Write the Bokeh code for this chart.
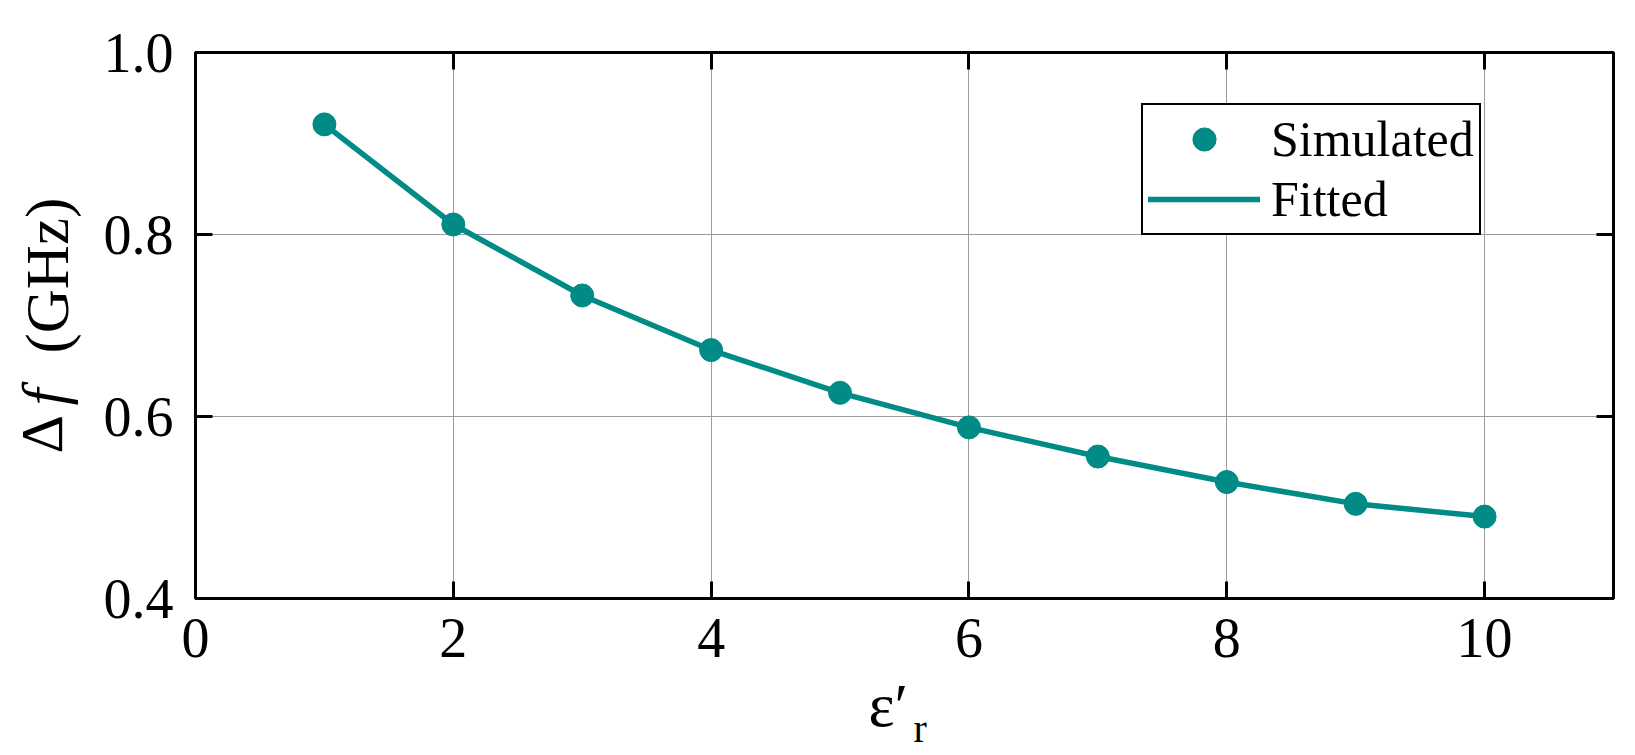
import math
from bokeh.plotting import figure
from bokeh.layouts import row, column
from bokeh.models import (Range1d, FixedTicker, LinearAxis, Legend, LegendItem,
                          NumeralTickFormatter, ColumnDataSource)
from bokeh.core.properties import value
from bokeh.embed import file_html
from bokeh.resources import INLINE

# ---- data ----
eps_r = [1, 2, 3, 4, 5, 6, 7, 8, 9, 10]
simulated = [0.921, 0.811, 0.733, 0.673, 0.626, 0.588, 0.556, 0.528, 0.504, 0.490]
fitted = [0.921, 0.811, 0.733, 0.673, 0.626, 0.588, 0.556, 0.528, 0.504, 0.490]
x_ticks = [0, 2, 4, 6, 8, 10]
y_ticks = [0.4, 0.6, 0.8, 1.0]
series_names = ["Simulated", "Fitted"]

TEAL = "#008B87"
FONT = "Liberation Serif"

YLAB_W = 100
BORDER_TOP = 52
FRAME_H = 546
BORDER_BOTTOM = 130

p = figure(frame_width=1418, frame_height=FRAME_H,
           x_range=Range1d(0, 11), y_range=Range1d(0.4, 1.0),
           output_backend="svg", toolbar_location=None,
           min_border_left=88, min_border_top=BORDER_TOP, min_border_right=20,
           min_border_bottom=BORDER_BOTTOM)

p.background_fill_color = "white"
p.border_fill_color = "white"
p.outline_line_color = "black"
p.outline_line_width = 3

# grid
p.xgrid.ticker = FixedTicker(ticks=[2, 4, 6, 8, 10])
p.ygrid.ticker = FixedTicker(ticks=[0.6, 0.8])
for g in (p.xgrid, p.ygrid):
    g.grid_line_color = "#9c9c9c"
    g.grid_line_width = 1

def style_axis(ax, ticks, show_labels=True):
    ax.ticker = FixedTicker(ticks=ticks)
    ax.axis_line_color = "black"
    ax.axis_line_width = 3
    ax.major_tick_line_color = "black"
    ax.major_tick_line_width = 3
    ax.major_tick_in = 17
    ax.major_tick_out = 0
    ax.minor_tick_line_color = None
    ax.major_label_text_font = FONT
    ax.major_label_text_color = "black"
    if show_labels:
        ax.major_label_text_font_size = "56px"
    else:
        ax.major_label_text_font_size = "0px"
        ax.major_label_text_alpha = 0

style_axis(p.xaxis[0], x_ticks)
p.xaxis[0].major_label_standoff = 20
style_axis(p.yaxis[0], y_ticks)
p.yaxis[0].major_label_standoff = 22
p.yaxis[0].formatter = NumeralTickFormatter(format="0.0")

top = LinearAxis()
style_axis(top, x_ticks, show_labels=False)
p.add_layout(top, "above")
right = LinearAxis()
style_axis(right, y_ticks, show_labels=False)
p.add_layout(right, "right")

src = ColumnDataSource(data=dict(x=eps_r, sim=simulated, fit=fitted))
ln = p.line("x", "fit", source=src, line_color=TEAL, line_width=5.5, line_cap="round", line_join="round")
sc = p.scatter("x", "sim", source=src, size=23, fill_color=TEAL, line_color=TEAL)

legend = Legend(items=[LegendItem(label=series_names[0], renderers=[sc]),
                       LegendItem(label=series_names[1], renderers=[ln])],
                location=(946, 363))
legend.label_text_font = FONT
legend.label_text_font_size = "50px"
legend.label_text_color = "black"
legend.glyph_width = 112
legend.glyph_height = 58
legend.label_height = 58
legend.label_standoff = 11
legend.spacing = 2
legend.padding = 5
legend.margin = 0
legend.border_line_color = "black"
legend.border_line_alpha = 1
legend.border_line_width = 2
legend.background_fill_alpha = 1
p.add_layout(legend, "center")

# ---- y-axis label figure: Δf (GHz), rotated; y data = page pixel row ----
ylab = figure(frame_width=YLAB_W, frame_height=FRAME_H,
              x_range=Range1d(0, YLAB_W), y_range=Range1d(BORDER_TOP + FRAME_H, BORDER_TOP),
              x_axis_type=None, y_axis_type=None, output_backend="svg", toolbar_location=None,
              min_border_left=0, min_border_right=0, min_border_top=BORDER_TOP,
              min_border_bottom=BORDER_BOTTOM)
ylab.outline_line_color = None
ylab.grid.visible = False
ang = math.pi / 2
ylab.text(x=[41], y=[453], text=["Δ"], angle=ang, text_font=value(FONT),
          text_font_size="60px", text_baseline="alphabetic", text_align="left", text_color="black")
ylab.text(x=[44], y=[405], text=["f"], angle=ang, text_font=value(FONT),
          text_font_style="italic", text_font_size="61px", text_baseline="alphabetic",
          text_align="left", text_color="black")
ylab.text(x=[47], y=[353], text=["(GHz)"], angle=ang, text_font=value(FONT),
          text_font_size="61px", text_baseline="alphabetic", text_align="left", text_color="black")

# ---- x-axis label figure: ε′ with subscript r; overlaps main bottom border ----
XW = YLAB_W + 88 + 1418 + 20
XL_TOP = 664
XL_H = 90
xlab = figure(width=XW, height=XL_H, x_range=Range1d(0, XW), y_range=Range1d(XL_TOP + XL_H, XL_TOP),
              x_axis_type=None, y_axis_type=None, output_backend="svg", toolbar_location=None,
              min_border=0)
xlab.outline_line_color = None
xlab.grid.visible = False
xlab.background_fill_alpha = 0
xlab.border_fill_alpha = 0
xlab.margin = (XL_TOP - (BORDER_TOP + FRAME_H + BORDER_BOTTOM), 0, 0, 0)
xlab.text(x=[868], y=[704], text=["ε′"], text_font=value(FONT),
          text_font_size="62px", text_baseline="alphabetic", text_align="left", text_color="black")
xlab.text(x=[913], y=[728], text=["r"], text_font=value(FONT),
          text_font_size="40px", text_baseline="alphabetic", text_align="left", text_color="black")

layout = column(row(ylab, p, spacing=0), xlab, spacing=0)
open("out.html", "w").write(file_html(layout, INLINE))
